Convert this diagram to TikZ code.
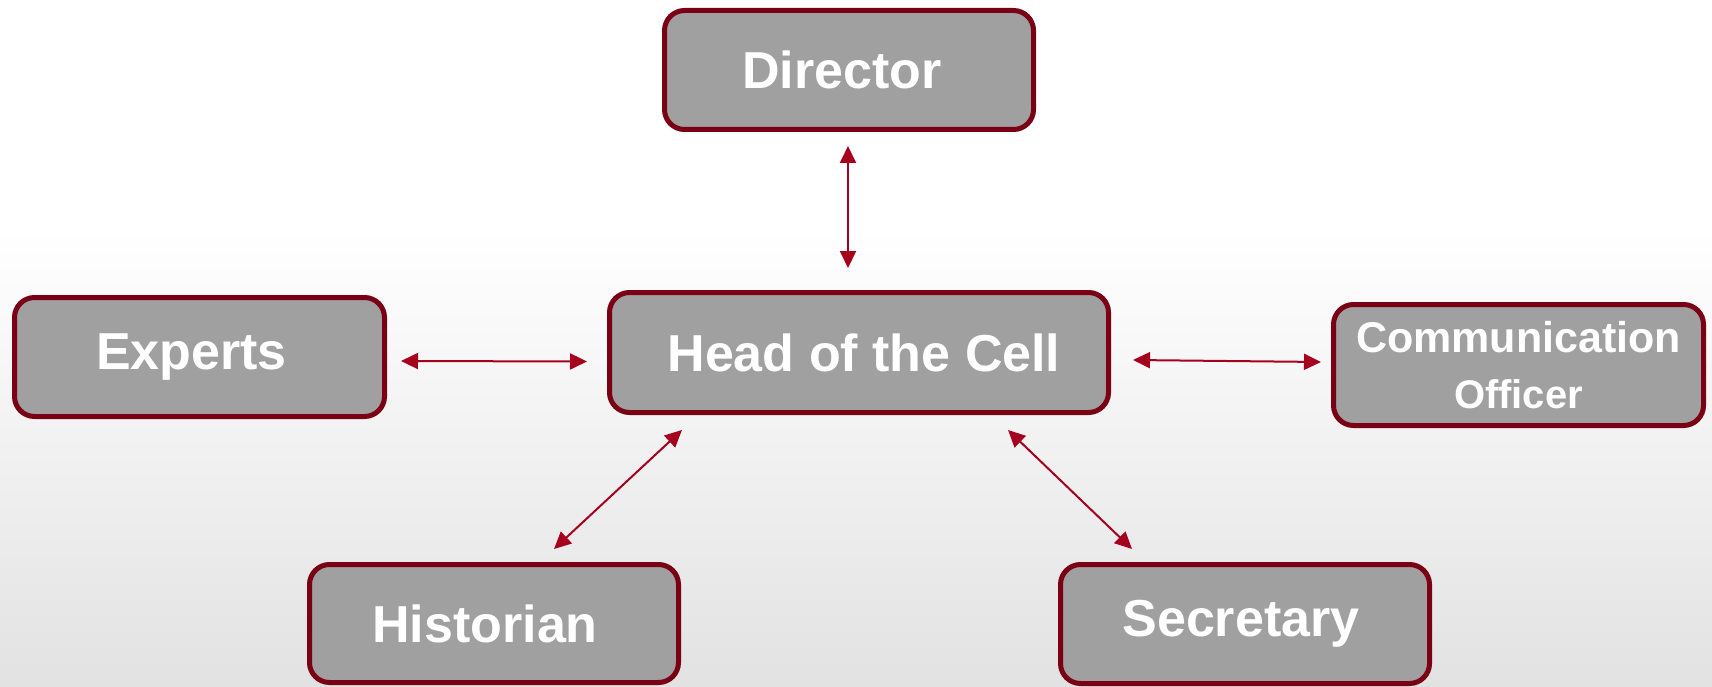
\documentclass[tikz,border=0pt]{standalone}
\usepackage{fontspec}
\setmainfont{Liberation Sans}
\usetikzlibrary{arrows.meta}

\definecolor{boxred}{RGB}{122,0,22}
\definecolor{linkred}{RGB}{165,0,30}
\definecolor{boxgray}{RGB}{160,160,160}
\definecolor{bglow}{RGB}{226,226,226}

\begin{document}
\begin{tikzpicture}[x=1pt, y=-1pt,
    rolebox/.style={draw=boxred, line width=5pt, fill=boxgray, rounded corners=20pt,
        text=white, font=\fontsize{52}{58}\selectfont\bfseries, align=center, inner sep=0pt},
    link/.style={draw=linkred, line width=2pt, {Triangle[length=17pt, width=16pt]}-{Triangle[length=17pt, width=16pt]}}]

    % ACHTERGROND
    \useasboundingbox (0,0) rectangle (1712,687);
    \fill[white] (0,0) rectangle (1712,231);
    \shade[top color=white, bottom color=bglow] (0,230) rectangle (1712,687);

    % VAKKEN
    \node[rolebox, minimum width=369pt, minimum height=119pt] (director) at (849,70) {Director\hspace*{14pt}};
    \node[rolebox, minimum width=499pt, minimum height=120pt] (head) at (859,352.5) {\hspace*{10pt}Head of the Cell};
    \node[rolebox, minimum width=370pt, minimum height=119pt] (experts) at (199.5,357) {Experts\hspace*{16pt}};
    \node[rolebox, minimum width=370pt, minimum height=121pt] (comm) at (1518.5,365)
        {\fontsize{43}{48}\selectfont Communication\\[-2pt]\fontsize{40}{44}\selectfont Officer};
    \node[rolebox, minimum width=369pt, minimum height=118pt] (historian) at (494,623.5) {Historian\hspace*{18pt}};
    \node[rolebox, minimum width=369pt, minimum height=119pt] (secretary) at (1245,624) {Secretary\hspace*{8pt}};

    % PIJLEN
    \draw[link] ([xshift=-1pt, yshift=-14pt]director.south) -- ([xshift=-11pt, yshift=22pt]head.north);
    \draw[link] ([xshift=14pt, yshift=-4pt]experts.east) -- ([xshift=-20pt, yshift=-9pt]head.west);
    \draw[link] ([xshift=22pt, yshift=-7.5pt]head.east) -- ([xshift=-10pt, yshift=3pt]comm.west);
    \draw[link] ([xshift=-177pt, yshift=-15pt]head.south) -- ([xshift=60pt, yshift=13pt]historian.north);
    \draw[link] ([xshift=149pt, yshift=-15pt]head.south) -- ([xshift=-113pt, yshift=13pt]secretary.north);
\end{tikzpicture}
\end{document}
